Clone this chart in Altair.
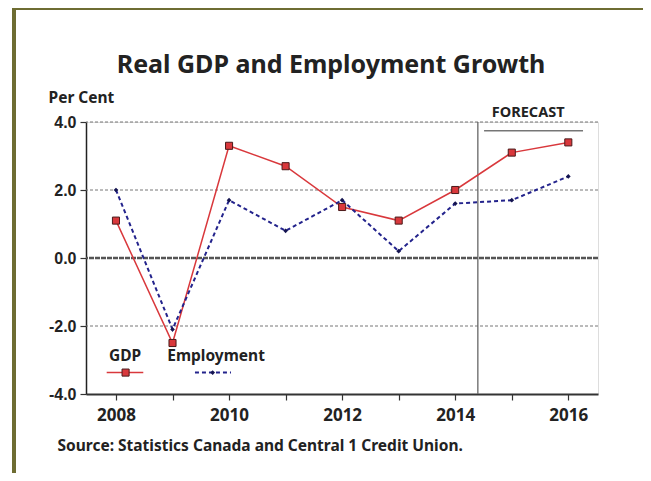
import altair as alt
import pandas as pd

# ---- data ----
years = [2008, 2009, 2010, 2011, 2012, 2013, 2014, 2015, 2016]
gdp = [1.1, -2.5, 3.3, 2.7, 1.5, 1.1, 2.0, 3.1, 3.4]
employment = [2.0, -2.1, 1.7, 0.8, 1.7, 0.2, 1.6, 1.7, 2.4]

y_ticks = [-4, -2, 0, 2, 4]
grid_levels = [-2, 2, 4]
forecast_start = 2014.4
forecast_label = "FORECAST"
source_text = "Source: Statistics Canada and Central 1 Credit Union."
title_text = "Real GDP and Employment Growth"

FONT = "Noto Sans"
YFONT = "Liberation Sans"
TXT = "#222222"
RED = "#d9383c"
RED_DARK = "#4a1a1a"
BLUE = "#23238c"
BLUE_DARK = "#141450"

xscale = alt.Scale(domain=[2007.47, 2016.525], nice=False, zero=False)
yscale = alt.Scale(domain=[-4, 4], nice=False)

df = pd.DataFrame({"year": years, "gdp": gdp, "emp": employment})
grid_df = pd.DataFrame({"v": grid_levels})

x_axis = alt.Axis(
    values=years, format="d",
    labelExpr="datum.value % 2 == 0 ? datum.label : ''",
    grid=False, tickSize=6, tickColor="#333", tickWidth=1.2,
    domainColor="#333", domainWidth=2,
    labelFont=FONT, labelFontSize=17, labelFontWeight="bold", labelColor=TXT,
    labelPadding=7,
    title=source_text, titleFont=FONT, titleFontSize=15.5, titleFontWeight="bold",
    titleColor=TXT, titleAlign="left", titleAnchor="start", titleX=-29, titleY=56,
    titleBaseline="alphabetic",
)
y_axis = alt.Axis(
    values=y_ticks,
    labelExpr="replace(format(datum.value, '.1f'), '\u2212', '-')",
    grid=False, tickSize=6, tickColor="#333", tickWidth=1.2,
    domainColor="#222", domainWidth=1.5,
    labelFont=YFONT, labelFontSize=16, labelFontWeight="bold", labelColor=TXT,
    labelPadding=4,
    title="Per Cent", titleAngle=0, titleFont=FONT, titleFontSize=15.5,
    titleFontWeight="bold", titleColor=TXT, titleAlign="left",
    titleX=-38, titleY=-20, titleBaseline="alphabetic",
)


def X(field):
    return alt.X(field, scale=xscale, axis=x_axis)


def Y(field):
    return alt.Y(field, scale=yscale, axis=y_axis)


base = alt.Chart(df)

grid = alt.Chart(grid_df).mark_rule(color="#777", strokeWidth=1, strokeDash=[3, 2]).encode(
    y=Y("v:Q")
)
zero = alt.Chart(pd.DataFrame({"v": [0]})).mark_rule(
    color="#555", strokeWidth=2.5, strokeDash=[5, 1]
).encode(y=Y("v:Q"))

forecast_line = alt.Chart(pd.DataFrame({"x": [forecast_start]})).mark_rule(
    color="#666", strokeWidth=1.3
).encode(x=X("x:Q"))

forecast_under = alt.Chart(pd.DataFrame({"x": [2014.51], "x2": [2016.26], "y": [3.74]})).mark_rule(
    color="#333", strokeWidth=1
).encode(x=X("x:Q"), x2="x2:Q", y=Y("y:Q"))
forecast_text = alt.Chart(pd.DataFrame({"x": [2015.29], "t": [forecast_label]})).mark_text(
    font=FONT, fontSize=14.5, fontWeight="bold", color=TXT, baseline="alphabetic"
).encode(x=X("x:Q"), y=alt.value(-5), text="t:N")

gdp_line = base.mark_line(color=RED, strokeWidth=1.5).encode(x=X("year:Q"), y=Y("gdp:Q"))
gdp_pts = base.mark_point(shape="square", filled=True, fill=RED, stroke=RED_DARK,
                          strokeWidth=1, size=50, opacity=1).encode(x=X("year:Q"), y=Y("gdp:Q"))
emp_line = base.mark_line(color=BLUE, strokeWidth=2, strokeDash=[4, 3]).encode(
    x=X("year:Q"), y=Y("emp:Q"))
emp_pts = base.mark_point(shape="diamond", filled=True, color=BLUE_DARK, size=22,
                          opacity=1).encode(x=X("year:Q"), y=Y("emp:Q"))

# ---- in-plot legend ----
leg_labels = pd.DataFrame({"x": [2007.876, 2008.907], "y": [-3.03, -3.03], "t": ["GDP", "Employment"]})
leg_text = alt.Chart(leg_labels).mark_text(
    font=FONT, fontSize=15.5, fontWeight="bold", color=TXT, align="left", baseline="alphabetic"
).encode(x=X("x:Q"), y=Y("y:Q"), text="t:N")

leg_gdp = alt.Chart(pd.DataFrame({"x": [2007.836], "x2": [2008.483], "y": [-3.37]})).mark_rule(
    color=RED, strokeWidth=1.5
).encode(x=X("x:Q"), x2="x2:Q", y=Y("y:Q"))
leg_gdp_pt = alt.Chart(pd.DataFrame({"x": [2008.17], "y": [-3.37]})).mark_point(
    shape="square", filled=True, fill=RED, stroke=RED_DARK, strokeWidth=1, size=50, opacity=1
).encode(x=X("x:Q"), y=Y("y:Q"))
leg_emp = alt.Chart(pd.DataFrame({"x": [2009.397], "x2": [2010.034], "y": [-3.37]})).mark_rule(
    color=BLUE, strokeWidth=2, strokeDash=[4, 3]
).encode(x=X("x:Q"), x2="x2:Q", y=Y("y:Q"))
leg_emp_pt = alt.Chart(pd.DataFrame({"x": [2009.71], "y": [-3.37]})).mark_point(
    shape="diamond", filled=True, color=BLUE_DARK, size=22, opacity=1
).encode(x=X("x:Q"), y=Y("y:Q"))

# ---- outer olive frame ----
FRAME = "#6e6d32"
frame_left = alt.Chart(df).mark_rule(color=FRAME, strokeWidth=3).encode(
    x=alt.value(-72), y=alt.value(-114), y2=alt.value(380))
frame_top = alt.Chart(df).mark_rule(color=FRAME, strokeWidth=3).encode(
    x=alt.value(-73.5), x2=alt.value(562.5), y=alt.value(-114))
frame_right = alt.Chart(df).mark_rule(color=FRAME, strokeWidth=3).encode(
    x=alt.value(561), y=alt.value(-114), y2=alt.value(380))

chart = alt.layer(
    grid, zero, forecast_line, forecast_under, forecast_text,
    gdp_line, emp_line, emp_pts, gdp_pts,
    leg_text, leg_gdp, leg_gdp_pt, leg_emp, leg_emp_pt,
    frame_left, frame_top, frame_right,
).properties(
    width=512, height=272,
    autosize=alt.AutoSizeParams(type="none"),
    padding={"left": 78, "top": 114, "right": 45, "bottom": 79},
    title=alt.TitleParams(
        text=title_text, font=FONT, fontSize=25, fontWeight="bold", color=TXT,
        anchor="middle", dx=-11, dy=71, frame="group", offset=0,
    ),
).configure_view(stroke="#777", strokeWidth=1.5).configure(background="white")

chart.save("out.html", embed_options={"renderer": "svg", "actions": False})
